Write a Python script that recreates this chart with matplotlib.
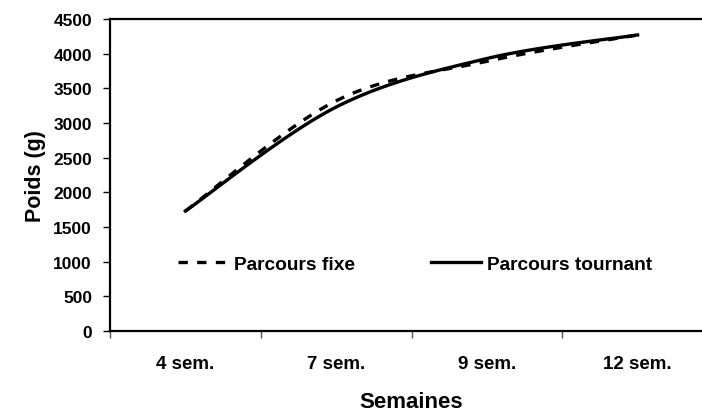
import numpy as np
import matplotlib
matplotlib.use("Agg")
import matplotlib.pyplot as plt
from matplotlib.ticker import FixedLocator, NullFormatter

# data (poids en g)
categories = ["4 sem.", "7 sem.", "9 sem.", "12 sem."]
fixe = [1730, 3320, 3890, 4270]
tournant = [1730, 3230, 3930, 4270]


def smooth(y, n=40):
    """Catmull-Rom curve through the points (Excel style smoothed line)."""
    y = np.asarray(y, dtype=float)
    x = np.arange(len(y), dtype=float)
    px = np.concatenate([[x[0]], x, [x[-1]]])
    py = np.concatenate([[y[0]], y, [y[-1]]])
    xs, ys = [], []
    for i in range(1, len(px) - 2):
        t = np.linspace(0, 1, n)
        for p, out in ((px, xs), (py, ys)):
            p0, p1, p2, p3 = p[i - 1], p[i], p[i + 1], p[i + 2]
            out.append(0.5 * ((2 * p1) + (-p0 + p2) * t
                              + (2 * p0 - 5 * p1 + 4 * p2 - p3) * t ** 2
                              + (-p0 + 3 * p1 - 3 * p2 + p3) * t ** 3))
    return np.concatenate(xs), np.concatenate(ys)


plt.rcParams['font.family'] = ['Liberation Sans', 'DejaVu Sans']
plt.rcParams['font.weight'] = 'bold'

fig = plt.figure(figsize=(7.02, 4.14), dpi=100)
W, H = 702, 414
ax = fig.add_axes([110 / W, 82 / H, (713 - 110) / W, 312 / H])

xf, yf = smooth(fixe)
xt, yt = smooth(tournant)
ax.plot(xf, yf, color="black", lw=2.4, linestyle=(0, (2.8, 2.8)), label="Parcours fixe")
ax.plot(xt, yt, color="black", lw=2.4, label="Parcours tournant")

ax.set_xlim(-0.5, len(categories) - 0.5)
ax.set_ylim(0, 4500)
ax.set_yticks(np.arange(0, 4501, 500))

# category ticks sit between the labels
ax.xaxis.set_major_locator(FixedLocator(np.arange(-0.5, len(categories), 1)))
ax.xaxis.set_major_formatter(NullFormatter())
ax.xaxis.set_minor_locator(FixedLocator(np.arange(len(categories))))
ax.set_xticklabels(categories, minor=True)
ax.tick_params(axis="x", which="minor", length=0, pad=17, labelsize=13.5)
ax.tick_params(axis="x", which="major", length=5, width=1, direction="out", color="#555555")
ax.tick_params(axis="y", length=5, width=1, direction="out", pad=8, labelsize=12.5)

for s in ax.spines.values():
    s.set_linewidth(1.6)

ax.set_xlabel("Semaines", fontsize=16, fontweight="bold", labelpad=14)
ax.set_ylabel("Poids (g)", fontsize=15.5, fontweight="bold", labelpad=5)

ax.legend(loc="center left", bbox_to_anchor=(0.1, 0.215), ncol=2, frameon=False,
          fontsize=13.8, handlelength=2.6, handletextpad=0.3, columnspacing=4.0,
          borderaxespad=0)

fig.savefig("out.png", dpi=100)
